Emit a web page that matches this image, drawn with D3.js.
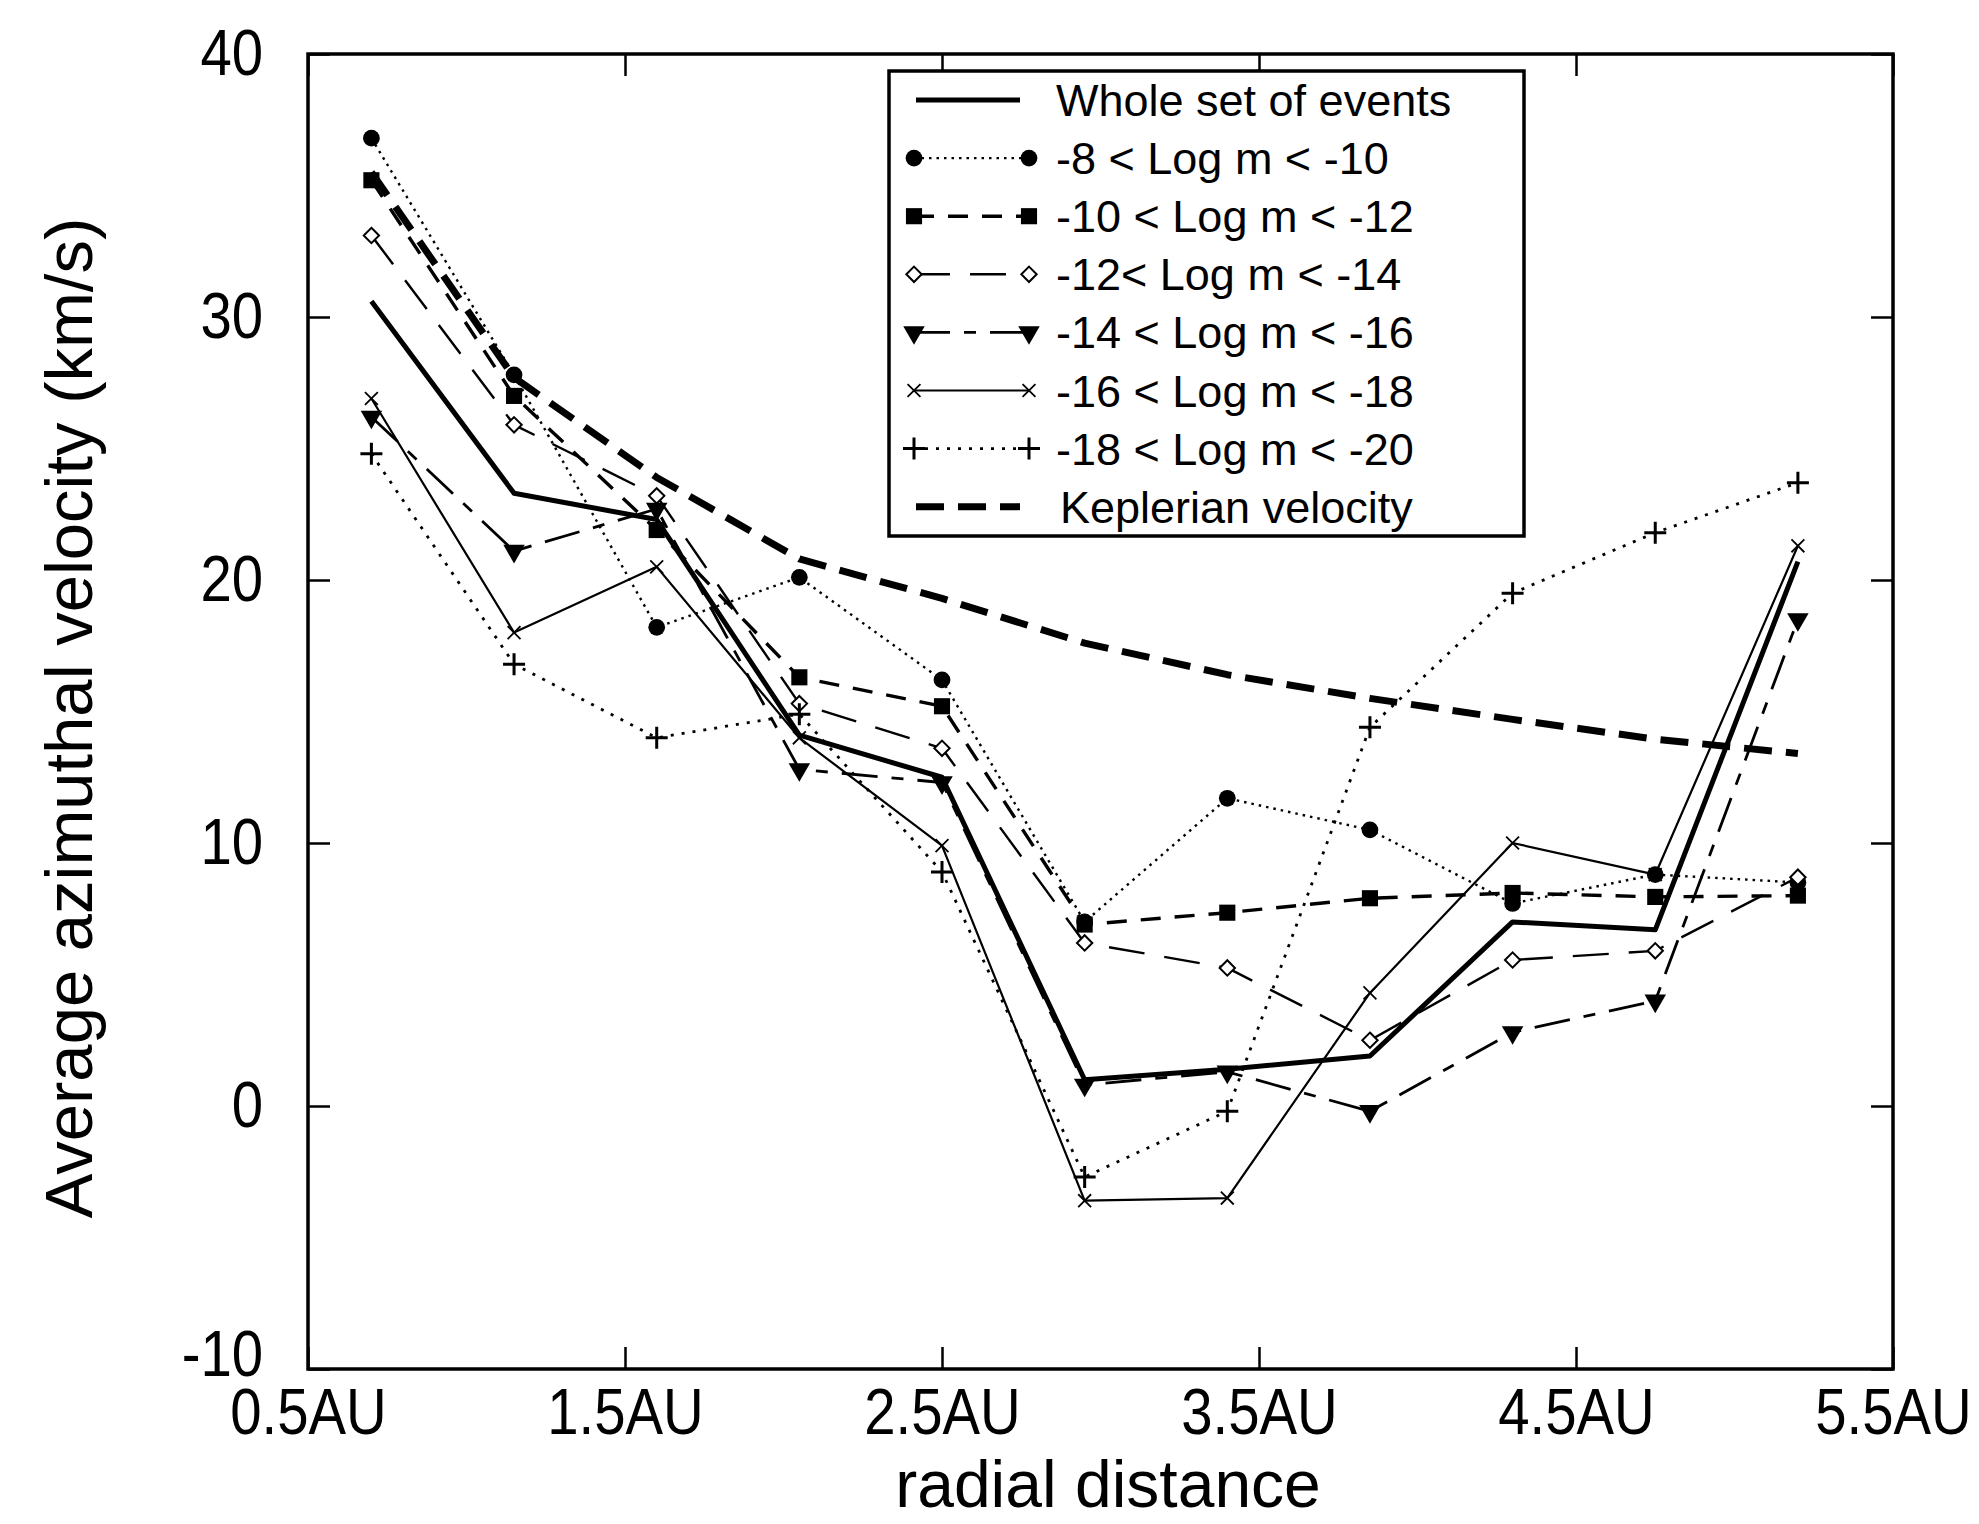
<!DOCTYPE html>
<html>
<head>
<meta charset="utf-8">
<script src="https://cdn.jsdelivr.net/npm/d3@7"></script>
<style>
	body { margin: 0; background: #fff; }
	svg text { font-family: "Liberation Sans", Arial, Helvetica, sans-serif; fill: #000; }
</style>
</head>
<body>
<div class="chart"></div>
<script>
// values (km/s at each radial bin)
const radialAU = [0.7, 1.15, 1.6, 2.05, 2.5, 2.95, 3.4, 3.85, 4.3, 4.75, 5.2]
const wholeSet = [30.6, 23.3, 22.3, 14.1, 12.5, 1.0, 1.4, 1.9, 7.0, 6.7, 20.7]
const logM8to10 = [36.8, 27.8, 18.2, 20.1, 16.2, 7.0, 11.7, 10.5, 7.7, 8.8, 8.5]
const logM10to12 = [35.2, 27.0, 21.9, 16.3, 15.2, 6.9, 7.35, 7.9, 8.1, 7.95, 8.0]
const logM12to14 = [33.1, 25.9, 23.2, 15.3, 13.6, 6.2, 5.25, 2.5, 5.55, 5.9, 8.7]
const logM14to16 = [26.2, 21.1, 22.7, 12.8, 12.3, 0.8, 1.3, -0.2, 2.8, 4.0, 18.5]
const logM16to18 = [26.9, 18.0, 20.5, 14.0, 9.9, -3.6, -3.5, 4.3, 10.0, 8.8, 21.3]
const logM18to20 = [24.8, 16.8, 14.0, 14.9, 8.9, -2.7, -0.2, 14.4, 19.5, 21.8, 23.7]
const keplerian = [35.5, 27.7, 23.9, 20.8, 19.3, 17.6, 16.4, 15.5, 14.7, 13.95, 13.4]

const seriesNames = ['Whole set of events', '-8 < Log m < -10', '-10 < Log m < -12', '-12< Log m < -14',
	'-14 < Log m < -16', '-16 < Log m < -18', '-18 < Log m < -20', 'Keplerian velocity']

const xTicks = [0.5, 1.5, 2.5, 3.5, 4.5, 5.5]
const xTickLabels = ['0.5AU', '1.5AU', '2.5AU', '3.5AU', '4.5AU', '5.5AU']
const yTicks = [-10, 0, 10, 20, 30, 40]

const width = 1979
const height = 1524
const plot = { left: 308, right: 1893, top: 54, bottom: 1369 }

const scaleX = d3.scaleLinear().domain([0.5, 5.5]).range([plot.left, plot.right])
const scaleY = d3.scaleLinear().domain([-10, 40]).range([plot.bottom, plot.top])

// line style + marker for each series, same order as seriesNames
const styles = [
	{ values: wholeSet, w: 5, dash: null, marker: null },
	{ values: logM8to10, w: 2.4, dash: '2.5,5', marker: 'circle' },
	{ values: logM10to12, w: 3.4, dash: '20,14', marker: 'square' },
	{ values: logM12to14, w: 2.4, dash: '36,20', marker: 'diamond' },
	{ values: logM14to16, w: 2.8, dash: '36,14,12,14', marker: 'triangle' },
	{ values: logM16to18, w: 2.2, dash: null, marker: 'times' },
	{ values: logM18to20, w: 2.8, dash: '3,8', marker: 'plus' },
	{ values: keplerian, w: 7, dash: '28,14', marker: null }
]

const markers = {
	circle: { d: d3.symbol(d3.symbolCircle, 220)(), fill: '#000', stroke: 'none', sw: 0, rot: 0 },
	square: { d: d3.symbol(d3.symbolSquare, 260)(), fill: '#000', stroke: 'none', sw: 0, rot: 0 },
	diamond: { d: d3.symbol(d3.symbolDiamond2, 150)(), fill: '#fff', stroke: '#000', sw: 2, rot: 0 },
	triangle: { d: d3.symbol(d3.symbolTriangle, 200)(), fill: '#000', stroke: 'none', sw: 0, rot: 180 },
	times: { d: d3.symbol(d3.symbolTimes, 110)(), fill: 'none', stroke: '#000', sw: 1.8, rot: 0 },
	plus: { d: 'M-11,0H11M0,-11V11', fill: 'none', stroke: '#000', sw: 3, rot: 0 }
}

const svg = d3.select('.chart').append('svg')
	.attr('width', width)
	.attr('height', height)
	.style('background', '#fff')

function drawMarker(g, type, x, y) {
	const m = markers[type]
	g.append('path')
		.attr('d', m.d)
		.attr('transform', `translate(${x},${y}) rotate(${m.rot})`)
		.attr('fill', m.fill)
		.attr('stroke', m.stroke)
		.attr('stroke-width', m.sw)
}

// frame + axes
const tickFont = g => g.selectAll('text')
	.style('font-size', '64px')
	.attr('transform', 'scale(0.88,1)')

svg.append('g')
	.attr('transform', `translate(0,${plot.bottom})`)
	.call(d3.axisBottom(scaleX).tickValues(xTicks).tickFormat((d, i) => xTickLabels[i])
		.tickSize(-22).tickSizeOuter(0).tickPadding(20))
	.call(tickFont)

const yAxisG = svg.append('g')
	.attr('transform', `translate(${plot.left},0)`)
	.call(d3.axisLeft(scaleY).tickValues(yTicks).tickFormat(d => String(d))
		.tickSize(-22).tickSizeOuter(0).tickPadding(51))
	.call(tickFont)

// bottom label sits a touch higher so it clears the first x label
yAxisG.selectAll('.tick text').filter(d => d === -10).attr('dy', '0.1em')

svg.append('g')
	.attr('transform', `translate(0,${plot.top})`)
	.call(d3.axisTop(scaleX).tickValues(xTicks).tickFormat('').tickSize(-22).tickSizeOuter(0))

svg.append('g')
	.attr('transform', `translate(${plot.right},0)`)
	.call(d3.axisRight(scaleY).tickValues(yTicks).tickFormat('').tickSize(-22).tickSizeOuter(0))

svg.selectAll('.domain').remove()
svg.selectAll('.tick line').attr('stroke', '#000').attr('stroke-width', 2.5)

svg.append('rect')
	.attr('x', plot.left)
	.attr('y', plot.top)
	.attr('width', plot.right - plot.left)
	.attr('height', plot.bottom - plot.top)
	.attr('fill', 'none')
	.attr('stroke', '#000')
	.attr('stroke-width', 3.5)

// axis titles
svg.append('text')
	.attr('x', 1108)
	.attr('y', 1507)
	.attr('text-anchor', 'middle')
	.style('font-size', '66px')
	.text('radial distance')

svg.append('text')
	.attr('transform', 'translate(92,718) rotate(-90)')
	.attr('text-anchor', 'middle')
	.style('font-size', '67px')
	.text('Average azimuthal velocity (km/s)')

// series
const line = d3.line()
	.x((d, i) => scaleX(radialAU[i]))
	.y(d => scaleY(d))

const gLines = svg.append('g').attr('class', 'lines')

styles.forEach(s => {
	gLines.append('path')
		.datum(s.values)
		.attr('d', line)
		.attr('fill', 'none')
		.attr('stroke', '#000')
		.attr('stroke-width', s.w)
		.attr('stroke-dasharray', s.dash)
		.attr('stroke-linejoin', 'round')
})

styles.forEach(s => {
	if (!s.marker) return
	s.values.forEach((v, i) => drawMarker(gLines, s.marker, scaleX(radialAU[i]), scaleY(v)))
})

// legend
const legend = svg.append('g').attr('class', 'legend')

legend.append('rect')
	.attr('x', 889)
	.attr('y', 71)
	.attr('width', 1524 - 889)
	.attr('height', 536 - 71)
	.attr('fill', '#fff')
	.attr('stroke', '#000')
	.attr('stroke-width', 3.5)

seriesNames.forEach((name, i) => {
	const s = styles[i]
	const y = 100 + i * 58.1
	const x0 = s.marker ? 914 : 916
	const x1 = s.marker ? 1029 : 1020
	legend.append('line')
		.attr('x1', x0).attr('x2', x1)
		.attr('y1', y).attr('y2', y)
		.attr('stroke', '#000')
		.attr('stroke-width', s.w)
		.attr('stroke-dasharray', s.dash)
	if (s.marker) {
		drawMarker(legend, s.marker, x0, y)
		drawMarker(legend, s.marker, x1, y)
	}
	legend.append('text')
		.attr('x', i === 7 ? 1060 : 1056)
		.attr('y', y + 16)
		.style('font-size', '45px')
		.text(name)
})
</script>
</body>
</html>
